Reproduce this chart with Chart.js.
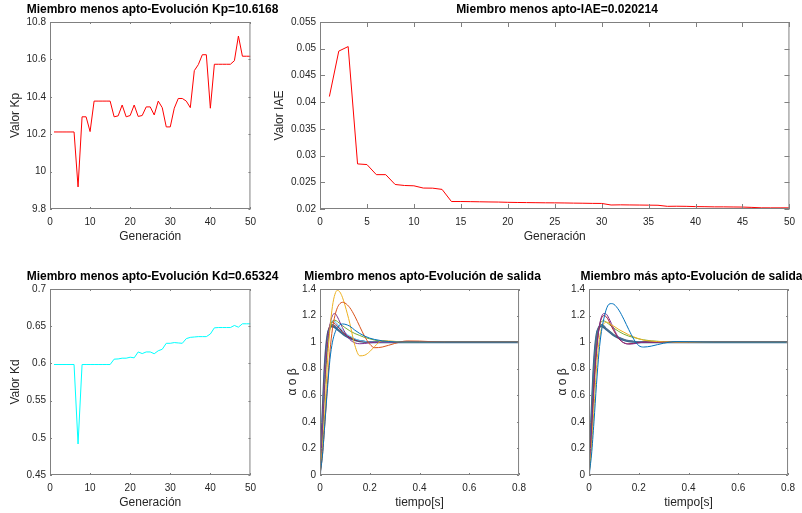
<!DOCTYPE html>
<html>
<head>
<meta charset="utf-8">
<script src="https://cdn.jsdelivr.net/npm/chart.js@4.4.1/dist/chart.umd.min.js"></script>
<style>
  body { margin: 0; background: #fff; width: 802px; height: 513px; position: relative; overflow: hidden;
         font-family: 'Liberation Sans', Arial, Helvetica, sans-serif; }
  canvas { position: absolute; }
  .titulo { position: absolute; font-weight: bold; font-size: 12px; line-height: 14px; white-space: nowrap;
            transform: translateX(-50%); color: #000; }
</style>
</head>
<body>
<script>
// generaciones del algoritmo genetico
const generaciones = [1, 2, 3, 4, 5, 6, 7, 8, 9, 10, 11, 12, 13, 14, 15, 16, 17, 18, 19, 20,
    21, 22, 23, 24, 25, 26, 27, 28, 29, 30, 31, 32, 33, 34, 35, 36, 37, 38, 39, 40,
    41, 42, 43, 44, 45, 46, 47, 48, 49, 50];

const valoresKp = [10.212, 10.212, 10.212, 10.212, 10.212, 10.212, 9.918, 10.293, 10.293, 10.214,
    10.377, 10.377, 10.377, 10.377, 10.377, 10.293, 10.298, 10.356, 10.293, 10.300,
    10.356, 10.295, 10.300, 10.346, 10.346, 10.303, 10.377, 10.342, 10.239, 10.239,
    10.339, 10.391, 10.391, 10.377, 10.342, 10.540, 10.572, 10.625, 10.625, 10.339,
    10.574, 10.574, 10.574, 10.574, 10.574, 10.593, 10.725, 10.617, 10.617, 10.6168];

const valoresIAE = [0.04105, 0.04955, 0.0504, 0.02844, 0.02832, 0.02643, 0.02643, 0.02459, 0.0244, 0.02434,
    0.02392, 0.0239, 0.02367, 0.0214, 0.0214, 0.02138, 0.02135, 0.02132, 0.0213, 0.02125,
    0.02122, 0.0212, 0.02118, 0.02116, 0.02115, 0.02113, 0.0211, 0.02108, 0.02105, 0.02104,
    0.02075, 0.02078, 0.02076, 0.02074, 0.02072, 0.0207, 0.0205, 0.02052, 0.0205, 0.02045,
    0.02043, 0.0204, 0.0204, 0.02038, 0.02036, 0.0203, 0.02022, 0.020214, 0.020214, 0.020214];

const valoresKd = [0.5985, 0.5985, 0.5985, 0.5985, 0.5985, 0.5985, 0.4917, 0.5985, 0.5985, 0.5985,
    0.5985, 0.5985, 0.5985, 0.5985, 0.5985, 0.6057, 0.606, 0.607, 0.607, 0.6083,
    0.6075, 0.6154, 0.6132, 0.6154, 0.6154, 0.613, 0.617, 0.619, 0.627, 0.627,
    0.628, 0.6275, 0.627, 0.6333, 0.635, 0.6355, 0.636, 0.636, 0.636, 0.6395,
    0.6478, 0.6482, 0.6482, 0.6482, 0.6482, 0.651, 0.6487, 0.65324, 0.65324, 0.65324];

// respuestas al escalon (tiempo en segundos)
const tiempo = [0, 0.01, 0.02, 0.03, 0.04, 0.05, 0.06, 0.07, 0.08, 0.09, 0.1, 0.12, 0.14, 0.16,
    0.18, 0.2, 0.22, 0.25, 0.3, 0.35, 0.4, 0.5, 0.8];

// miembro menos apto
const menosAmarillo = [0, 0.2, 0.5, 0.85, 1.1, 1.27, 1.36, 1.39, 1.377, 1.338, 1.28, 1.14, 0.976, 0.897, 0.902, 0.929, 0.968, 1.012, 1.006, 0.998, 1.0, 1.0, 1.0];
const menosNaranja = [0, 0.15, 0.4, 0.68, 0.93, 1.1, 1.2, 1.26, 1.29, 1.3, 1.295, 1.259, 1.195, 1.117, 1.041, 0.985, 0.958, 0.963, 0.99, 1.009, 1.008, 1.0, 1.0];
const menosMorado = [0, 0.35, 0.72, 0.98, 1.13, 1.2, 1.215, 1.19, 1.15, 1.11, 1.075, 1.02, 0.995, 0.988, 0.99, 0.995, 0.998, 1.0, 1.0, 1.0, 1.0, 1.0, 1.0];
const menosAzul = [0, 0.15, 0.4, 0.65, 0.87, 1.0, 1.07, 1.11, 1.13, 1.137, 1.135, 1.12, 1.09, 1.065, 1.045, 1.03, 1.02, 1.01, 1.002, 1.0, 1.0, 1.0, 1.0];
const menosVerde = [0, 0.3, 0.68, 0.95, 1.1, 1.155, 1.165, 1.155, 1.14, 1.125, 1.11, 1.085, 1.065, 1.05, 1.035, 1.025, 1.015, 1.008, 1.002, 1.0, 1.0, 1.0, 1.0];
const menosCeleste = [0, 0.35, 0.75, 1.0, 1.12, 1.16, 1.155, 1.135, 1.11, 1.09, 1.07, 1.045, 1.025, 1.012, 1.005, 1.0, 1.0, 1.0, 1.0, 1.0, 1.0, 1.0, 1.0];
const menosGranate = [0, 0.4, 0.8, 1.03, 1.13, 1.15, 1.14, 1.12, 1.1, 1.08, 1.06, 1.035, 1.018, 1.008, 1.002, 1.0, 1.0, 1.0, 1.0, 1.0, 1.0, 1.0, 1.0];
const grupo1 = [0, 0.42, 0.82, 1.04, 1.115, 1.13, 1.12, 1.1, 1.085, 1.07, 1.055, 1.035, 1.02, 1.01, 1.004, 1.0, 1.0, 1.0, 1.0, 1.0, 1.0, 1.0, 1.0];
const grupo2 = [0, 0.45, 0.85, 1.05, 1.11, 1.12, 1.11, 1.095, 1.08, 1.065, 1.05, 1.03, 1.015, 1.006, 1.002, 1.0, 1.0, 1.0, 1.0, 1.0, 1.0, 1.0, 1.0];

// miembro mas apto
const masAzul = [0, 0.15, 0.4, 0.68, 0.92, 1.08, 1.18, 1.25, 1.285, 1.29, 1.285, 1.241, 1.172, 1.094, 1.022, 0.974, 0.963, 0.97, 0.992, 1.004, 1.003, 1.0, 1.0];
const masMorado = [0, 0.3, 0.65, 0.92, 1.1, 1.19, 1.215, 1.21, 1.18, 1.14, 1.1, 1.03, 0.995, 0.985, 0.988, 0.995, 0.999, 1.0, 1.0, 1.0, 1.0, 1.0, 1.0];
const masGranate = [0, 0.32, 0.68, 0.94, 1.1, 1.18, 1.2, 1.19, 1.16, 1.12, 1.085, 1.025, 0.995, 0.988, 0.99, 0.996, 1.0, 1.0, 1.0, 1.0, 1.0, 1.0, 1.0];
const masAmarillo = [0, 0.2, 0.5, 0.8, 1.0, 1.1, 1.14, 1.15, 1.145, 1.13, 1.12, 1.095, 1.075, 1.055, 1.04, 1.025, 1.015, 1.008, 1.002, 1.0, 1.0, 1.0, 1.0];
const masVerde = [0, 0.3, 0.68, 0.95, 1.1, 1.155, 1.16, 1.15, 1.135, 1.12, 1.105, 1.08, 1.06, 1.045, 1.035, 1.025, 1.017, 1.01, 1.003, 1.0, 1.0, 1.0, 1.0];

const FUENTE = "'Liberation Sans', Arial, Helvetica, sans-serif";
const TEXTO = '#262626';

// caja estilo matlab con marcas hacia dentro
const cajaMatlab = {
    id: 'cajaMatlab',
    afterDatasetsDraw(chart, args, opts) {
        const { ctx, chartArea: a, scales } = chart;
        const L = opts.tick || 3;
        ctx.save();
        ctx.strokeStyle = '#808080';
        ctx.lineWidth = 1;
        ctx.beginPath();
        ctx.rect(a.left + 0.5, a.top + 0.5, a.right - a.left - 1, a.bottom - a.top - 1);
        scales.x.ticks.forEach(t => {
            const px = Math.round(scales.x.getPixelForValue(t.value)) + 0.5;
            ctx.moveTo(px, a.bottom); ctx.lineTo(px, a.bottom - L);
            ctx.moveTo(px, a.top); ctx.lineTo(px, a.top + L);
        });
        scales.y.ticks.forEach(t => {
            const py = Math.round(scales.y.getPixelForValue(t.value)) + 0.5;
            ctx.moveTo(a.left, py); ctx.lineTo(a.left + L, py);
            ctx.moveTo(a.right, py); ctx.lineTo(a.right - L, py);
        });
        ctx.stroke();
        ctx.restore();
    }
};

function formato(v) {
    return String(Number(v.toFixed(4)));
}

function puntos(xs, ys) {
    return xs.map((x, i) => ({ x: x, y: ys[i] }));
}

function linea(xs, ys, color, ancho) {
    return {
        data: puntos(xs, ys),
        borderColor: color,
        borderWidth: ancho || 1,
        pointRadius: 0,
        fill: false,
        cubicInterpolationMode: xs === tiempo ? 'monotone' : 'default',
        tension: 0
    };
}

function crearGrafica(caja, datasets, ejeX, ejeY, titulo) {
    const W = 50, H = 40, ARRIBA = 6, DERECHA = 8;
    const canvas = document.createElement('canvas');
    canvas.width = caja.x1 - caja.x0 + W + DERECHA;
    canvas.height = caja.y1 - caja.y0 + ARRIBA + H;
    canvas.style.left = (caja.x0 - W) + 'px';
    canvas.style.top = (caja.y0 - ARRIBA) + 'px';
    document.body.appendChild(canvas);

    const fuenteTicks = { family: FUENTE, size: 10 };
    const fuenteTitulo = { family: FUENTE, size: 12 };

    new Chart(canvas, {
        type: 'line',
        data: { datasets: datasets },
        options: {
            responsive: false,
            animation: false,
            devicePixelRatio: 1,
            layout: { padding: { top: ARRIBA, right: DERECHA, left: 0, bottom: 0 } },
            plugins: {
                legend: { display: false },
                tooltip: { enabled: false },
                cajaMatlab: { tick: caja.tick }
            },
            scales: {
                x: {
                    type: 'linear',
                    min: ejeX.min, max: ejeX.max,
                    grid: { display: false, drawTicks: false },
                    border: { display: false },
                    ticks: { stepSize: ejeX.paso, callback: formato, font: fuenteTicks, color: TEXTO,
                             padding: 7, maxRotation: 0, autoSkip: false },
                    title: { display: true, text: ejeX.titulo, font: fuenteTitulo, color: TEXTO,
                             padding: { top: 0, bottom: 5 } },
                    afterFit: s => { s.height = H; }
                },
                y: {
                    type: 'linear',
                    min: ejeY.min, max: ejeY.max,
                    grid: { display: false, drawTicks: false },
                    border: { display: false },
                    ticks: { stepSize: ejeY.paso, callback: formato, font: fuenteTicks, color: TEXTO,
                             padding: 4, autoSkip: false },
                    title: { display: true, text: ejeY.titulo, font: fuenteTitulo, color: TEXTO,
                             padding: { top: ejeY.sep, bottom: 0 } },
                    afterFit: s => { s.width = W; }
                }
            }
        },
        plugins: [cajaMatlab]
    });

    const div = document.createElement('div');
    div.className = 'titulo';
    div.textContent = titulo;
    div.style.left = ((caja.x0 + caja.x1) / 2) + 'px';
    div.style.top = (caja.y0 - 16) + 'px';
    document.body.appendChild(div);
}

// Kp
crearGrafica({ x0: 50, x1: 255, y0: 18, y1: 209, tick: 2 },
    [linea(generaciones, valoresKp, '#FF0000')],
    { min: 0, max: 50, paso: 10, titulo: 'Generación' },
    { min: 9.8, max: 10.8, paso: 0.2, titulo: 'Valor Kp', sep: 8 },
    'Miembro menos apto-Evolución Kp=10.6168');

// IAE
crearGrafica({ x0: 320, x1: 794, y0: 18, y1: 209, tick: 5 },
    [linea(generaciones, valoresIAE, '#FF0000')],
    { min: 0, max: 50, paso: 5, titulo: 'Generación' },
    { min: 0.02, max: 0.055, paso: 0.005, titulo: 'Valor IAE', sep: 2 },
    'Miembro menos apto-IAE=0.020214');

// Kd
crearGrafica({ x0: 50, x1: 255, y0: 285, y1: 475, tick: 2 },
    [linea(generaciones, valoresKd, '#00FFFF')],
    { min: 0, max: 50, paso: 10, titulo: 'Generación' },
    { min: 0.45, max: 0.7, paso: 0.05, titulo: 'Valor Kd', sep: 8 },
    'Miembro menos apto-Evolución Kd=0.65324');

// salida, miembro menos apto
crearGrafica({ x0: 320, x1: 525, y0: 285, y1: 475, tick: 2 },
    [
        linea(tiempo, menosAzul, '#0072BD'),
        linea(tiempo, menosNaranja, '#D95319'),
        linea(tiempo, menosAmarillo, '#EDB120'),
        linea(tiempo, menosMorado, '#7E2F8E'),
        linea(tiempo, menosVerde, '#77AC30'),
        linea(tiempo, menosCeleste, '#4DBEEE'),
        linea(tiempo, menosGranate, '#A2142F'),
        linea(tiempo, grupo1, '#4A6F8F', 1.5),
        linea(tiempo, grupo2, '#2F5F8F', 2)
    ],
    { min: 0, max: 0.8, paso: 0.2, titulo: 'tiempo[s]' },
    { min: 0, max: 1.4, paso: 0.2, titulo: 'α o β', sep: 15 },
    'Miembro menos apto-Evolución de salida');

// salida, miembro mas apto
crearGrafica({ x0: 589, x1: 794, y0: 285, y1: 475, tick: 2 },
    [
        linea(tiempo, masAzul, '#0072BD'),
        linea(tiempo, masAmarillo, '#EDB120'),
        linea(tiempo, masMorado, '#7E2F8E'),
        linea(tiempo, masGranate, '#A2142F'),
        linea(tiempo, masVerde, '#77AC30'),
        linea(tiempo, grupo1, '#4A6F8F', 1.5),
        linea(tiempo, grupo2, '#2F5F8F', 2)
    ],
    { min: 0, max: 0.8, paso: 0.2, titulo: 'tiempo[s]' },
    { min: 0, max: 1.4, paso: 0.2, titulo: 'α o β', sep: 16 },
    'Miembro más apto-Evolución de salida');
</script>
</body>
</html>
